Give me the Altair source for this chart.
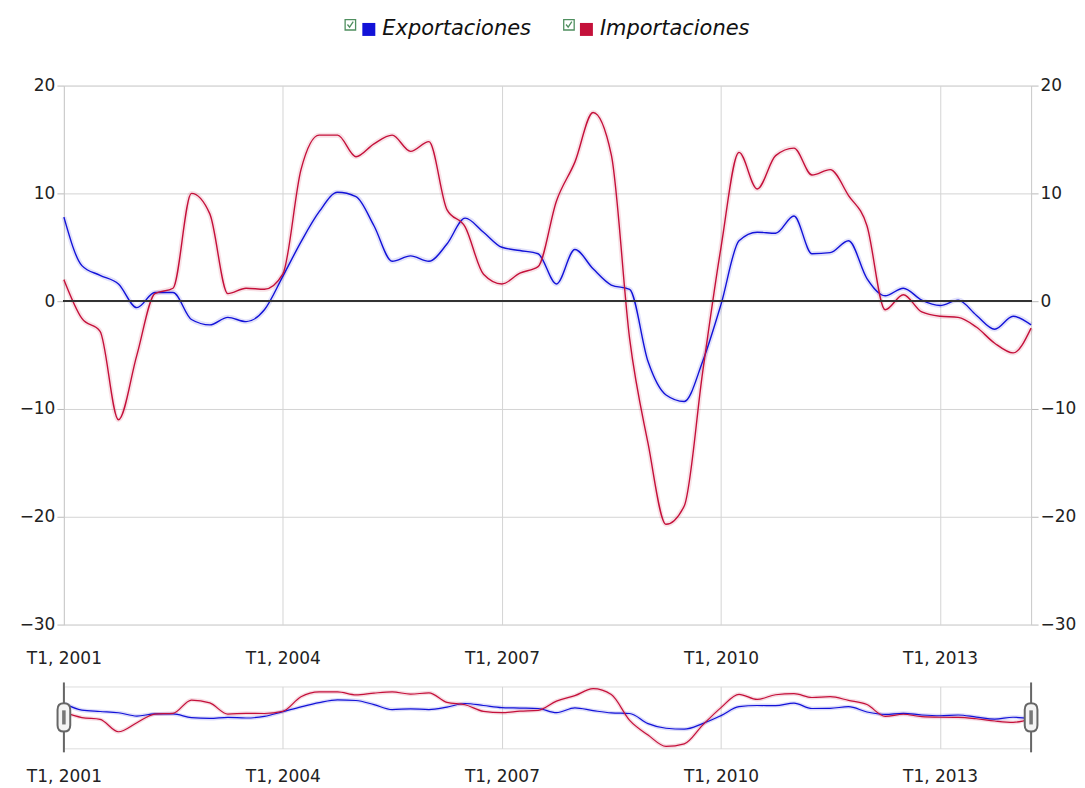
import altair as alt
import pandas as pd

# ---- data (quarterly, T1 2001 .. T2 2014) ----
start_year = 2001
series_names = ["Exportaciones", "Importaciones"]
series_colors = ["#1212d8", "#c4103a"]
checkbox_keys = ["casilla_exp", "casilla_imp"]
exportaciones = [7.8, 3.3, 2.4, 1.6, -0.6, 0.8, 0.8, -1.7, -2.2, -1.5,
                 -1.9, -0.8, 2.3, 5.5, 8.3, 10.1, 9.7, 7.0, 3.7, 4.2,
                 3.7, 5.3, 7.7, 6.4, 5.0, 4.7, 4.4, 1.6, 4.8, 3.0,
                 1.5, 1.1, -5.6, -8.7, -9.3, -5.6, -0.3, 5.6, 6.4, 6.3,
                 7.9, 4.4, 4.5, 5.6, 2.1, 0.5, 1.2, 0.1, -0.4, 0.1,
                 -1.3, -2.6, -1.4, -2.2]
importaciones = [2.0, -1.6, -2.8, -11.0, -5.0, 0.7, 1.2, 10.0, 8.1, 0.7,
                 1.2, 1.1, 2.5, 12.2, 15.4, 15.4, 13.4, 14.6, 15.4, 13.9,
                 14.8, 8.5, 6.9, 2.5, 1.6, 2.6, 3.2, 9.3, 12.9, 17.5,
                 13.6, -3.5, -13.2, -20.7, -19.0, -6.6, 5.0, 13.8, 10.4, 13.5,
                 14.2, 11.7, 12.2, 9.8, 7.0, -0.8, 0.6, -1.0, -1.4, -1.5,
                 -2.4, -3.9, -4.8, -2.5]
tick_years = [2001, 2004, 2007, 2010, 2013]
y_ticks = [-30, -20, -10, 0, 10, 20]

n = len(exportaciones)
fechas = [f"{start_year + i // 4}-{(i % 4) * 3 + 1:02d}-01T00:00:00" for i in range(n)]
df = pd.DataFrame({
    "fecha": fechas * 2,
    "serie": [series_names[0]] * n + [series_names[1]] * n,
    "casilla": [checkbox_keys[0]] * n + [checkbox_keys[1]] * n,
    "valor": exportaciones + importaciones,
})

FONT = "DejaVu Sans"
x_dom = [alt.DateTime(year=start_year, month=1, date=1),
         alt.DateTime(year=start_year + (n - 1) // 4, month=((n - 1) % 4) * 3 + 1, date=1)]
x_vals = [alt.DateTime(year=y, month=1, date=1) for y in tick_years]
label_expr = "'T' + quarter(datum.value) + ', ' + year(datum.value)"

color = alt.Color(
    "serie:N",
    scale=alt.Scale(domain=series_names, range=series_colors),
    legend=alt.Legend(
        title=None, orient="none", direction="horizontal",
        legendX=295, legendY=-67,
        symbolType="square", symbolSize=16, symbolStrokeWidth=9, symbolOpacity=1,
        labelFont=FONT, labelFontStyle="italic", labelFontSize=21,
        labelColor="#111", labelOffset=3, columnPadding=34,
    ),
)

checkbox_path = ("M-1,-1 L1,-1 L1,1 L-1,1 Z "
                 "M-0.55,-0.05 L-0.15,0.45 L0.55,-0.6")
checkbox = alt.Shape(
    "casilla:N",
    scale=alt.Scale(domain=checkbox_keys, range=[checkbox_path, checkbox_path]),
    legend=alt.Legend(
        title=None, orient="none", direction="horizontal",
        legendX=281, legendY=-67, labelExpr="''", labelOffset=0,
        symbolSize=110, symbolStrokeWidth=1.3, symbolStrokeColor="#4f8f5f",
        symbolFillColor="#f6fbf6", symbolOpacity=1, columnPadding=203,
    ),
)


def x_enc(pad):
    return alt.X(
        "fecha:T", title=None,
        scale=alt.Scale(domain=x_dom),
        axis=alt.Axis(values=x_vals, labelExpr=label_expr, grid=True,
                      gridColor="#d4d4d4", ticks=False, domain=False,
                      labelFont=FONT, labelFontSize=17, labelColor="#222",
                      labelPadding=pad, labelFlush=False),
    )


base = alt.Chart(df)
y_scale = alt.Scale(domain=[-30, 20], nice=False)

glow = base.mark_line(strokeWidth=5, opacity=0.12, interpolate="monotone").encode(
    x=x_enc(26),
    y=alt.Y("valor:Q", title=None, scale=y_scale,
            axis=alt.Axis(values=y_ticks, grid=True, gridColor="#d4d4d4",
                          domainColor="#cccccc", tickColor="#bbbbbb", tickSize=7,
                          labelFont=FONT, labelFontSize=17, labelColor="#222",
                          labelPadding=2, minExtent=50)),
    color=color,
)
lines = base.mark_line(strokeWidth=1.4, interpolate="monotone").encode(
    x=x_enc(26), y=alt.Y("valor:Q", scale=y_scale), color=color,
)
checks = base.mark_point(opacity=0, size=1).encode(
    x=x_enc(26), y=alt.Y("valor:Q", scale=y_scale), shape=checkbox,
)
zero = base.mark_rule(color="#333333", strokeWidth=1.5).encode(y=alt.datum(0))

left_layer = alt.layer(glow, lines, checks, zero)

right = base.mark_line(opacity=0).encode(
    x=x_enc(26),
    y=alt.Y("valor:Q", title=None, scale=y_scale,
            axis=alt.Axis(orient="right", values=y_ticks, grid=False,
                          domainColor="#cccccc", tickColor="#bbbbbb", tickSize=7,
                          labelFont=FONT, labelFontSize=17, labelColor="#222",
                          labelPadding=2)),
    color=color,
)

main = alt.layer(left_layer, right).resolve_scale(y="independent").properties(
    width=969, height=540
)

# ---- navigator ----
nav_scale = alt.Scale(domain=[-22, 19], nice=False)
nav_glow = base.mark_line(strokeWidth=4, opacity=0.15, interpolate="monotone").encode(
    x=x_enc(20),
    y=alt.Y("valor:Q", scale=nav_scale, axis=None),
    color=color,
)
nav_lines = base.mark_line(strokeWidth=1.2, interpolate="monotone").encode(
    x=x_enc(20), y=alt.Y("valor:Q", scale=nav_scale, axis=None), color=color,
)
handle_df = pd.DataFrame({"fecha": [fechas[0], fechas[-1]]})
hbase = alt.Chart(handle_df)
h_rule = hbase.mark_rule(color="#666666", strokeWidth=2).encode(
    x="fecha:T", y=alt.value(-4), y2=alt.value(66)
)
capsule = "M-0.45,-0.55 Q-0.45,-1 0,-1 Q0.45,-1 0.45,-0.55 L0.45,0.55 Q0.45,1 0,1 Q-0.45,1 -0.45,0.55 Z"
h_cap = hbase.mark_point(shape=capsule, size=800, filled=True, fill="#f4f4f4",
                         stroke="#666666", strokeWidth=2, opacity=1).encode(
    x="fecha:T", y=alt.value(31)
)
h_bar = hbase.mark_point(shape="M-0.25,-1 L0.25,-1 L0.25,1 L-0.25,1 Z", size=200, filled=True,
                         fill="#777777", strokeWidth=0, opacity=1).encode(
    x="fecha:T", y=alt.value(31)
)
nav = alt.layer(nav_glow, nav_lines, h_rule, h_cap, h_bar).properties(
    width=969, height=62
)

chart = alt.vconcat(main, nav, spacing=12).properties(
    padding={"left": 5, "top": 10, "right": 0, "bottom": 0}
).configure_view(stroke="#d0d0d0").configure(background="white")

chart.save("out.html", embed_options={"renderer": "svg", "actions": False})
